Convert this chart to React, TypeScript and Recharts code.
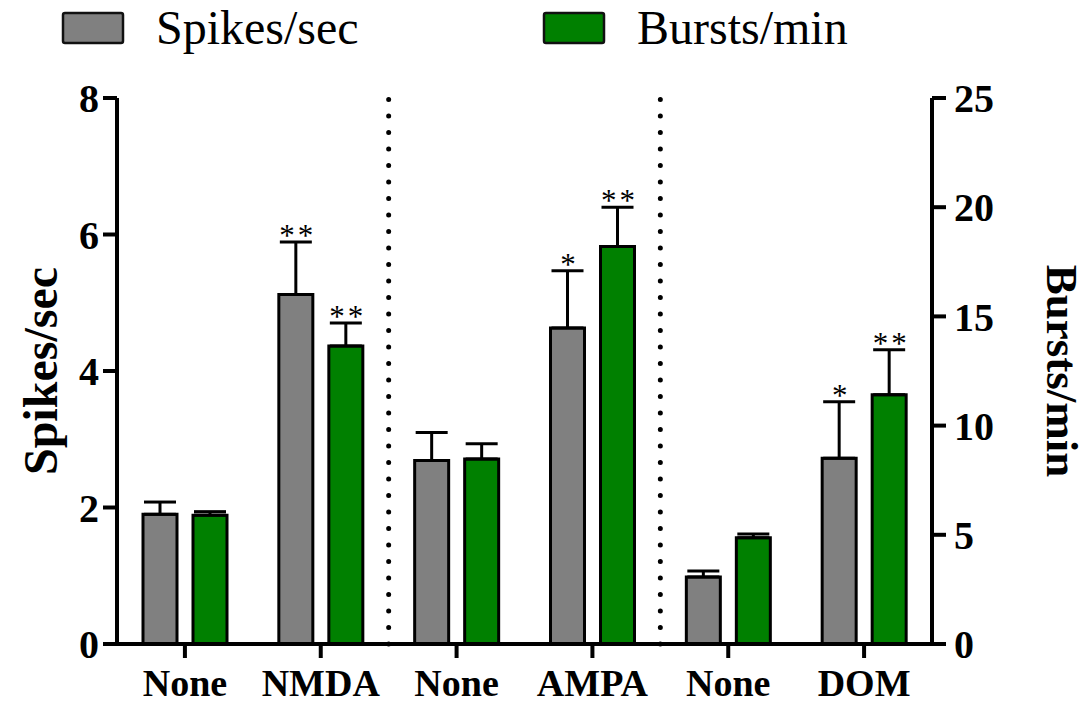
import React from "react";
import {
  ComposedChart,
  Bar,
  XAxis,
  YAxis,
  ErrorBar,
  LabelList,
  ReferenceLine,
  Legend,
} from "recharts";

const SERIF = "'Liberation Serif', 'Times New Roman', serif";

// groups along the x axis (ids keep the three "None" groups apart)
const groupIds = ["none1", "nmda", "none2", "ampa", "none3", "dom"];
const groupLabels = ["None", "NMDA", "None", "AMPA", "None", "DOM"];

// Spikes/sec (left axis)
const spikes = [1.9, 5.12, 2.69, 4.63, 0.98, 2.72];
const spikesErr = [0.18, 0.77, 0.41, 0.84, 0.09, 0.83];
const spikesSig = ["", "**", "", "*", "", "*"];

// Bursts/min (right axis)
const bursts = [5.9, 13.65, 8.47, 18.2, 4.86, 11.41];
const burstsErr = [0.16, 1.05, 0.7, 1.8, 0.18, 2.06];
const burstsSig = ["", "**", "", "**", "", "**"];

const seriesNames = ["Spikes/sec", "Bursts/min"];
const leftTicks = [0, 2, 4, 6, 8];
const rightTicks = [0, 5, 10, 15, 20, 25];

const data = groupIds.map((id, i) => ({
  id,
  spikes: spikes[i],
  spikesErr: [0, spikesErr[i]],
  spikesSig: spikesSig[i],
  bursts: bursts[i],
  burstsErr: [0, burstsErr[i]],
  burstsSig: burstsSig[i],
}));

const tickStyle = { fill: "#000", fontSize: 40, fontWeight: 700, fontFamily: SERIF };
const xTickStyle = { ...tickStyle, fontSize: 38 };
const lineStyle = { stroke: "#000", strokeWidth: 4 };

// star label sitting just over the top of the error bar
function starLabel(values: number[], errs: number[]) {
  return (props: any) => {
    const { x, y, width, height, index, value } = props;
    if (!value) return null;
    const v = values[index];
    const base = y + height;
    const top = base - (height * (v + errs[index])) / v;
    return (
      <text
        x={x + width / 2 + 2}
        y={top + 4}
        textAnchor="middle"
        fontFamily={SERIF}
        fontSize={31}
        letterSpacing={3}
        fill="#000"
      >
        {value}
      </text>
    );
  };
}

function LegendBox(props: any) {
  const payload = [...(props.payload || [])].sort(
    (a: any, b: any) => seriesNames.indexOf(a.value) - seriesNames.indexOf(b.value)
  );
  const starts = [63, 544];
  return (
    <svg width={1089} height={60}>
      {payload.map((p: any, i: number) => (
        <g key={p.value}>
          <rect
            x={starts[i]}
            y={13}
            width={60}
            height={30}
            fill={p.color}
            stroke="#111"
            strokeWidth={2.5}
            rx={2}
          />
          <text
            x={starts[i] + 93}
            y={44}
            fontFamily={SERIF}
            fontSize={48}
            fill="#000"
          >
            {p.value}
          </text>
        </g>
      ))}
    </svg>
  );
}

export default function App() {
  return (
    <div style={{ position: "absolute", left: 0, top: 0 }}>
      <ComposedChart
        width={1089}
        height={707}
        data={data}
        margin={{ top: 98, right: 0, bottom: 0, left: 0 }}
        barSize={34}
        barGap={16}
      >
        <Legend
          verticalAlign="middle"
          align="center"
          wrapperStyle={{ top: 0, left: 0, width: 1089, height: 60 }}
          content={<LegendBox />}
        />
        <XAxis
          dataKey="id"
          height={63}
          tickFormatter={(_v: string, i: number) => groupLabels[i]}
          axisLine={lineStyle}
          tickLine={lineStyle}
          tickSize={14}
          tickMargin={11}
          tick={xTickStyle}
          interval={0}
        />
        <YAxis
          yAxisId="left"
          width={117}
          domain={[0, 8]}
          ticks={leftTicks}
          axisLine={lineStyle}
          tickLine={lineStyle}
          tickSize={14}
          tickMargin={4}
          tick={tickStyle}
          label={{
            content: (p: any) => {
              const vb = p.viewBox;
              const cx = vb.x + 40;
              const cy = vb.y + vb.height / 2;
              return (
                <text
                  x={cx}
                  y={cy}
                  transform={`rotate(-90 ${cx} ${cy})`}
                  textAnchor="middle"
                  dominantBaseline="central"
                  fontFamily={SERIF}
                  fontWeight={700}
                  fontSize={48}
                  fill="#000"
                >
                  Spikes/sec
                </text>
              );
            },
          }}
        />
        <YAxis
          yAxisId="right"
          orientation="right"
          width={157}
          domain={[0, 25]}
          ticks={rightTicks}
          axisLine={lineStyle}
          tickLine={lineStyle}
          tickSize={14}
          tickMargin={8}
          tick={tickStyle}
          label={{
            content: (p: any) => {
              const vb = p.viewBox;
              const cx = vb.x + 130;
              const cy = vb.y + vb.height / 2;
              return (
                <text
                  x={cx}
                  y={cy}
                  transform={`rotate(90 ${cx} ${cy})`}
                  textAnchor="middle"
                  dominantBaseline="central"
                  fontFamily={SERIF}
                  fontWeight={700}
                  fontSize={45}
                  fill="#000"
                >
                  Bursts/min
                </text>
              );
            },
          }}
        />
        <ReferenceLine
          yAxisId="left"
          x="none2"
          position="start"
          stroke="#000"
          strokeWidth={5}
          strokeDasharray="0 16.5"
          strokeLinecap="round"
        />
        <ReferenceLine
          yAxisId="left"
          x="none3"
          position="start"
          stroke="#000"
          strokeWidth={5}
          strokeDasharray="0 16.5"
          strokeLinecap="round"
        />
        <Bar
          yAxisId="left"
          dataKey="spikes"
          name="Spikes/sec"
          fill="#808080"
          stroke="#000"
          strokeWidth={3}
          isAnimationActive={false}
        >
          <ErrorBar
            dataKey="spikesErr"
            direction="y"
            width={16}
            stroke="#000"
            strokeWidth={3}
            isAnimationActive={false}
          />
          <LabelList dataKey="spikesSig" content={starLabel(spikes, spikesErr)} />
        </Bar>
        <Bar
          yAxisId="right"
          dataKey="bursts"
          name="Bursts/min"
          fill="#008000"
          stroke="#000"
          strokeWidth={3}
          isAnimationActive={false}
        >
          <ErrorBar
            dataKey="burstsErr"
            direction="y"
            width={16}
            stroke="#000"
            strokeWidth={3}
            isAnimationActive={false}
          />
          <LabelList dataKey="burstsSig" content={starLabel(bursts, burstsErr)} />
        </Bar>
      </ComposedChart>
    </div>
  );
}
